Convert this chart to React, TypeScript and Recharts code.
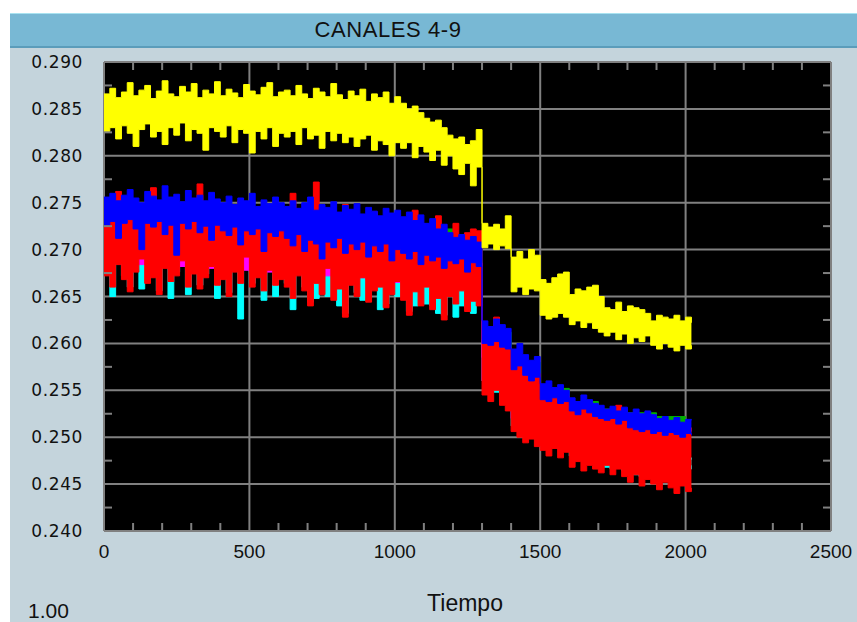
import React from 'react';
import { ComposedChart, Area, XAxis, YAxis, CartesianGrid } from 'recharts';

// samples every 20 time units, values in 1e-4 units
const STEP = 20;

// canal amarillo
const YEL_HI = [
  2866, 2872, 2862, 2868, 2878, 2864, 2870, 2875, 2861, 2869, 2880, 2866, 2863, 2874, 2868, 2877, 2862, 2870, 2866, 2879,
  2864, 2871, 2867, 2862, 2876, 2869, 2865, 2873, 2878, 2863, 2868,
  2870, 2864, 2875, 2866, 2861, 2872, 2868, 2863, 2877, 2865, 2860, 2869, 2864, 2871, 2858, 2866, 2862, 2868, 2856, 2863,
  2856, 2850, 2853, 2846, 2840, 2836, 2838, 2830, 2822, 2818, 2820, 2812, 2816, 2828,
  2728, 2724, 2727, 2722, 2736, 2692, 2698, 2690, 2700, 2694, 2668, 2664, 2670, 2674, 2676,
  2652, 2658, 2656, 2660, 2662, 2650, 2638, 2636, 2644, 2634, 2640, 2638, 2636, 2632,
  2624, 2630, 2628, 2626, 2630, 2624, 2628, 2622,
];
const YEL_LO = [
  2826, 2830, 2818, 2832, 2824, 2810, 2828, 2834, 2820, 2826, 2812, 2830, 2822, 2835, 2816, 2828, 2824, 2806, 2830, 2826,
  2820, 2832, 2814, 2828, 2824, 2803, 2826, 2818, 2830, 2810, 2824,
  2820, 2826, 2812, 2830, 2818, 2822, 2808, 2826, 2816, 2824, 2814, 2820, 2810, 2818, 2822, 2806, 2816, 2812, 2800, 2814,
  2808, 2814, 2798, 2810, 2804, 2795, 2806, 2790, 2800, 2786, 2780, 2792, 2768, 2788,
  2702, 2706, 2700, 2704, 2701, 2655, 2660, 2652, 2658, 2656, 2630, 2626, 2628, 2632, 2628,
  2620, 2624, 2617, 2622, 2616, 2612, 2608, 2612, 2604, 2610, 2600, 2606, 2602, 2608,
  2598, 2594, 2600, 2596, 2592, 2598, 2594, 2598,
];

// canal azul
const BLU_HI = [
  2756, 2760, 2752, 2758, 2764, 2755, 2750, 2762, 2757, 2753, 2768, 2756, 2759, 2751, 2763, 2755, 2758, 2752, 2761, 2754,
  2750, 2757, 2748, 2755, 2752, 2760, 2746, 2753, 2749, 2756, 2750,
  2746, 2752, 2744, 2750, 2756, 2742, 2748, 2745, 2751, 2740, 2747, 2743, 2749, 2738, 2745, 2741, 2736, 2744, 2739, 2742,
  2735, 2740, 2731, 2737, 2728, 2733, 2722, 2727, 2718, 2713, 2716, 2710, 2714, 2708,
  2624, 2618, 2626, 2620, 2616, 2594, 2600, 2588, 2582, 2586, 2557, 2560, 2553, 2556, 2550,
  2542, 2538, 2545, 2540, 2536, 2534, 2530, 2533, 2528, 2532, 2526, 2530, 2525, 2528,
  2524, 2520, 2522, 2518, 2521, 2516, 2519, 2518,
];
const BLU_LO = [
  2726, 2730, 2712, 2728, 2732, 2722, 2700, 2728, 2724, 2730, 2716, 2726, 2694, 2728, 2722, 2730, 2718, 2725, 2710, 2726,
  2720, 2715, 2724, 2705, 2720, 2716, 2722, 2698, 2718, 2714, 2720,
  2712, 2704, 2716, 2698, 2710, 2706, 2690, 2708, 2702, 2712, 2696, 2706, 2700, 2708, 2692, 2704, 2698, 2706, 2688, 2700,
  2696, 2690, 2698, 2684, 2694, 2688, 2692, 2680, 2688, 2685, 2690, 2676, 2686, 2682,
  2600, 2598, 2602, 2596, 2594, 2572, 2576, 2566, 2560, 2564, 2540, 2538, 2542, 2536, 2538,
  2528, 2524, 2530, 2526, 2522, 2520, 2518, 2520, 2514, 2518, 2510, 2508, 2506, 2508,
  2504, 2506, 2502, 2505, 2503, 2500, 2504, 2502,
];

// canal rojo
const RED_HI = [
  2740, 2735, 2762, 2738, 2732, 2745, 2736, 2740, 2766, 2734, 2742, 2738, 2733, 2740, 2746, 2735, 2770, 2738, 2736, 2742,
  2734, 2740, 2738, 2752, 2736, 2733, 2740, 2737, 2742, 2735, 2738,
  2734, 2760, 2736, 2730, 2740, 2772, 2733, 2738, 2730, 2736, 2748, 2732, 2728, 2735, 2730, 2740, 2727, 2733, 2738, 2726,
  2730, 2724, 2742, 2728, 2722, 2726, 2736, 2720, 2716, 2728, 2712, 2718, 2722, 2720,
  2604, 2600, 2628, 2598, 2596, 2576, 2580, 2570, 2566, 2568, 2548, 2545, 2550, 2546, 2544,
  2535, 2532, 2537, 2534, 2530, 2528, 2526, 2528, 2534, 2524, 2520, 2522, 2518, 2520,
  2516, 2514, 2518, 2515, 2512, 2514, 2510, 2506,
];
const RED_LO = [
  2672, 2660, 2684, 2668, 2655, 2676, 2690, 2664, 2670, 2652, 2680, 2666, 2672, 2688, 2660, 2674, 2658, 2670, 2682, 2662,
  2668, 2650, 2676, 2664, 2692, 2660, 2670, 2656, 2678, 2662, 2668,
  2660, 2648, 2672, 2656, 2640, 2664, 2652, 2680, 2646, 2658, 2628, 2662, 2650, 2670, 2644, 2656, 2660, 2638, 2652, 2666,
  2646, 2630, 2655, 2640, 2660, 2636, 2648, 2625, 2650, 2642, 2656, 2634, 2645, 2640,
  2545, 2538, 2550, 2534, 2528, 2506, 2500, 2494, 2498, 2490, 2486, 2480, 2488, 2478, 2484,
  2468, 2474, 2464, 2470, 2466, 2462, 2470, 2460, 2466, 2458, 2452, 2460, 2448, 2455,
  2450, 2444, 2452, 2446, 2440, 2448, 2442, 2446,
];

// canal cian
const CYA_HI = [
  2702, 2708, 2698, 2705, 2710, 2700, 2706, 2696, 2704, 2709, 2700, 2706, 2698, 2703, 2710, 2701, 2697, 2705, 2700, 2707,
  2696, 2703, 2699, 2706, 2700, 2694, 2702, 2698, 2705, 2697, 2700,
  2695, 2700, 2692, 2698, 2690, 2696, 2688, 2694, 2699, 2690, 2686, 2693, 2689, 2695, 2684, 2690, 2686, 2692, 2682, 2688,
  2684, 2680, 2686, 2678, 2682, 2676, 2680, 2674, 2678, 2672, 2676, 2670, 2674, 2668,
  2585, 2580, 2582, 2578, 2575, 2555, 2550, 2545, 2540, 2542, 2520, 2516, 2518, 2514, 2515,
  2505, 2502, 2504, 2500, 2498, 2496, 2494, 2495, 2490, 2492, 2488, 2486, 2484, 2486,
  2482, 2480, 2483, 2478, 2480, 2476, 2478, 2476,
];
const CYA_LO = [
  2676, 2650, 2688, 2672, 2660, 2680, 2658, 2668, 2674, 2656, 2684, 2648, 2676, 2692, 2652, 2678, 2662, 2674, 2686, 2648,
  2672, 2654, 2680, 2626, 2696, 2664, 2674, 2646, 2682, 2650, 2672,
  2664, 2636, 2676, 2660, 2644, 2648, 2656, 2650, 2650, 2640, 2632, 2666, 2654, 2646, 2648, 2660, 2636, 2642, 2656, 2650,
  2650, 2634, 2640, 2644, 2642, 2640, 2632, 2630, 2654, 2628, 2640, 2638, 2632, 2644,
  2560, 2552, 2548, 2544, 2540, 2512, 2508, 2504, 2500, 2498, 2494, 2490, 2492, 2488, 2490,
  2480, 2478, 2476, 2474, 2472, 2470, 2468, 2466, 2470, 2464, 2462, 2460, 2458, 2462,
  2460, 2456, 2458, 2454, 2462, 2458, 2466, 2470,
];

// canales verde y magenta (casi ocultos), cada 100
const SPARSE_STEP = 100;
const GRN_HI = [2745, 2742, 2744, 2740, 2741, 2738, 2736, 2735, 2733, 2730, 2728, 2722, 2716, 2612, 2580, 2552, 2538, 2530, 2526, 2522, 2520];
const GRN_LO = [2722, 2720, 2718, 2716, 2715, 2712, 2708, 2706, 2704, 2700, 2696, 2692, 2688, 2600, 2568, 2542, 2528, 2520, 2514, 2510, 2506];
const MAG_HI = [2715, 2712, 2714, 2710, 2708, 2706, 2704, 2702, 2700, 2698, 2695, 2690, 2686, 2585, 2552, 2528, 2518, 2510, 2505, 2500, 2498];
const MAG_LO = [2685, 2684, 2682, 2680, 2678, 2676, 2674, 2672, 2670, 2668, 2665, 2662, 2660, 2560, 2520, 2500, 2490, 2482, 2476, 2472, 2468];

const Y_TICKS = [0.24, 0.245, 0.25, 0.255, 0.26, 0.265, 0.27, 0.275, 0.28, 0.285, 0.29];
const Y_MINOR = [0.2425, 0.2475, 0.2525, 0.2575, 0.2625, 0.2675, 0.2725, 0.2775, 0.2825, 0.2875];
const X_TICKS = [0, 500, 1000, 1500, 2000, 2500];
const X_MINOR = [100, 200, 300, 400, 600, 700, 800, 900, 1100, 1200, 1300, 1400, 1600, 1700, 1800, 1900, 2100, 2200, 2300, 2400];

const toRows = (hi: number[], lo: number[], step: number) =>
  hi.map((h, i) => ({ t: i * step, v: [lo[i] / 10000, h / 10000] }));

const SERIES = [
  { name: 'verde', color: '#00b000', data: toRows(GRN_HI, GRN_LO, SPARSE_STEP) },
  { name: 'cian', color: '#00ffff', data: toRows(CYA_HI, CYA_LO, STEP) },
  { name: 'magenta', color: '#ff00ff', data: toRows(MAG_HI, MAG_LO, SPARSE_STEP) },
  { name: 'rojo', color: '#ff0000', data: toRows(RED_HI, RED_LO, STEP) },
  { name: 'azul', color: '#0000ff', data: toRows(BLU_HI, BLU_LO, STEP) },
  { name: 'amarillo', color: '#ffff00', data: toRows(YEL_HI, YEL_LO, STEP) },
];

const GRID = '#808080';
const minorLine = { stroke: GRID, strokeWidth: 2 };
// minor axes only draw their tick lines
const NoLabel = () => <g />;

export default function App() {
  return (
    <div style={{ position: 'absolute', left: 0, top: 0, width: 857, height: 622, background: '#fff', overflow: 'hidden' }}>
      <div style={{ position: 'absolute', left: 10, top: 13, width: 847, height: 609, background: '#c4d4dc' }} />
      <div
        style={{
          position: 'absolute', left: 10, top: 13, width: 847, height: 32,
          background: '#78b8d4', borderTop: '1px solid #a8e2f0', borderBottom: '2px solid #5b9cba',
        }}
      />
      <div
        style={{
          position: 'absolute', left: 0, top: 19, width: 776, textAlign: 'center',
          fontFamily: '"Liberation Sans", Arial, sans-serif', fontSize: 22, lineHeight: 1,
          letterSpacing: 0.6, color: '#111',
        }}
      >
        CANALES 4-9
      </div>

      <div style={{ position: 'absolute', left: 0, top: 0 }}>
        <ComposedChart width={857} height={622} margin={{ top: 62, right: 26, bottom: 0, left: 0 }}>
          <CartesianGrid fill="#000" stroke={GRID} strokeWidth={2} />
          <XAxis
            dataKey="t" type="number" domain={[0, 2500]} ticks={X_TICKS} allowDataOverflow
            height={91} tickSize={0} tickMargin={14} tickLine={false} axisLine={false}
            tick={{ fill: '#111', fontSize: 19, fontFamily: '"Liberation Sans", Arial, sans-serif' }}
          />
          <XAxis
            xAxisId="top" dataKey="t" orientation="top" type="number" domain={[0, 2500]} ticks={X_MINOR} allowDataOverflow
            height={1} mirror tickSize={8} interval={0} tick={NoLabel} tickLine={minorLine} axisLine={false}
          />
          <XAxis
            xAxisId="bottomMinor" dataKey="t" type="number" domain={[0, 2500]} ticks={X_MINOR} allowDataOverflow
            height={1} mirror tickSize={8} interval={0} tick={NoLabel} tickLine={minorLine} axisLine={false}
          />
          <YAxis
            type="number" domain={[0.24, 0.29]} ticks={Y_TICKS} allowDataOverflow
            width={104} tickSize={0} tickMargin={21} tickLine={false} axisLine={false}
            tickFormatter={(v: number) => v.toFixed(3)}
            tick={{ fill: '#111', fontSize: 17, letterSpacing: 0.6, fontFamily: '"DejaVu Sans", Verdana, sans-serif' }}
          />
          <YAxis
            yAxisId="leftMinor" type="number" domain={[0.24, 0.29]} ticks={Y_MINOR} allowDataOverflow
            width={1} mirror tickSize={8} interval={0} tick={NoLabel} tickLine={minorLine} axisLine={false}
          />
          <YAxis
            yAxisId="right" orientation="right" type="number" domain={[0.24, 0.29]} ticks={Y_MINOR} allowDataOverflow
            width={1} mirror tickSize={8} interval={0} tick={NoLabel} tickLine={minorLine} axisLine={false}
          />
          {SERIES.map((s) => (
            <Area
              key={s.name}
              name={s.name}
              data={s.data}
              dataKey="v"
              type="stepAfter"
              stroke={s.color}
              strokeWidth={1}
              fill={s.color}
              fillOpacity={1}
              dot={false}
              activeDot={false}
              isAnimationActive={false}
            />
          ))}
        </ComposedChart>
      </div>

      <div
        style={{
          position: 'absolute', left: 0, top: 592, width: 930, textAlign: 'center',
          fontFamily: '"Liberation Sans", Arial, sans-serif', fontSize: 23, lineHeight: 1, color: '#111',
        }}
      >
        Tiempo
      </div>
      <div
        style={{
          position: 'absolute', left: 28, top: 600,
          fontFamily: '"Liberation Sans", Arial, sans-serif', fontSize: 21, lineHeight: 1, color: '#111',
        }}
      >
        1.00
      </div>
    </div>
  );
}
